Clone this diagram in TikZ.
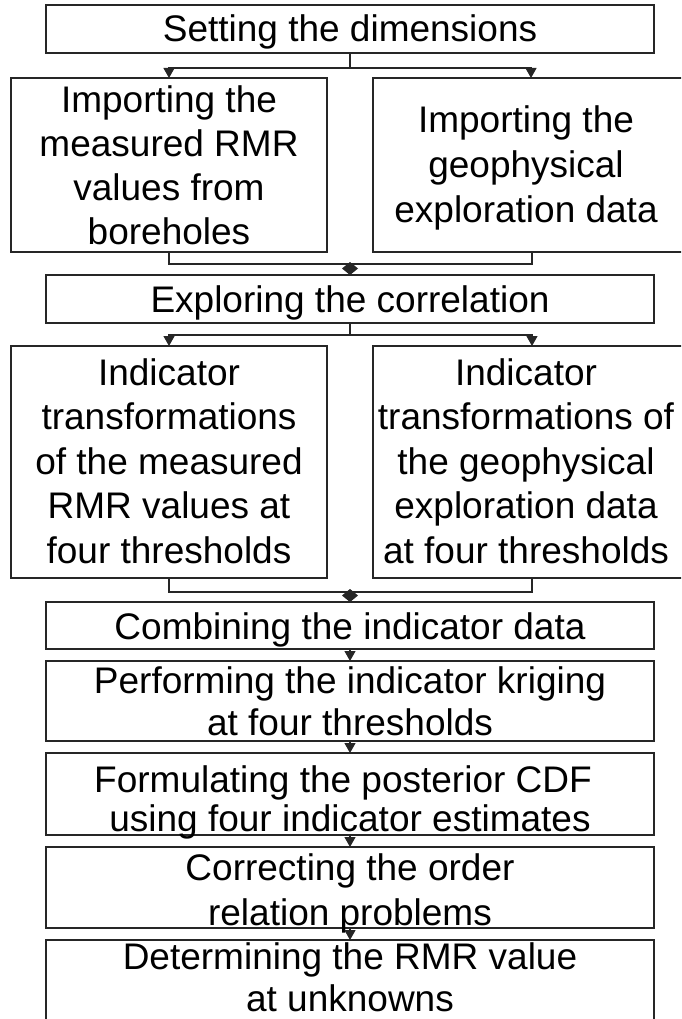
\documentclass[tikz,border=0pt]{standalone}
\usepackage{fontspec}
\setmainfont{Liberation Sans}
\usetikzlibrary{arrows.meta,calc}
\tikzset{
  txt/.style={inner sep=0pt, outer sep=0pt, align=center, text=black, text depth=0pt},
  box/.style={txt, draw=black!85, line width=1.2pt},
  openbox/.style={txt, draw=none},
  fs/.style={font=\fontsize{37}{#1}\selectfont},
  edge/.style={draw=black!85, line width=1.2pt},
  arr/.style={edge, -{Triangle[length=10pt,width=11pt]}},
  merge/.style={edge, -{Kite[length=13pt,width=16pt,inset=6.5pt]}, shorten <=-2pt},
}
\begin{document}
\begin{tikzpicture}[x=1pt,y=-1pt]
\clip (0,0) rectangle (681,1019);
\fill[white] (0,0) rectangle (681,1019);
% boxes
\node[box, fs=44, text height=26pt, minimum width=608pt, minimum height=48pt] (dim) at (350,29)
  {Setting the dimensions};
\node[box, fs=43.7, text height=158pt, minimum width=316pt, minimum height=174pt] (impL) at (169,165)
  {Importing the\\measured RMR\\values from\\boreholes};
\node[openbox, fs=45, text height=115pt, minimum width=306pt, minimum height=174pt] (impR) at (526,165)
  {Importing the\\geophysical\\exploration data};
\node[box, fs=44, text height=26pt, minimum width=608pt, minimum height=48pt] (exp) at (350,299)
  {Exploring the correlation};
\node[box, fs=44.5, text height=202pt, minimum width=316pt, minimum height=232pt] (indL) at (169,462)
  {Indicator\\transformations\\of the measured\\RMR values at\\four thresholds};
\node[openbox, fs=44.5, text height=202pt, minimum width=306pt, minimum height=232pt] (indR) at (526,462)
  {Indicator\\transformations of\\the geophysical\\exploration data\\at four thresholds};
\node[box, fs=44, text height=27pt, minimum width=608pt, minimum height=47pt] (comb) at (350,625.5)
  {Combining the indicator data};
\node[box, fs=42, text height=68pt, minimum width=608pt, minimum height=80pt] (krig) at (350,701)
  {Performing the indicator kriging\\at four thresholds};
\node[box, fs=38.5, text height=74pt, minimum width=608pt, minimum height=82pt] (post) at (350,794)
  {Formulating the posterior CDF\kern14pt\\using four indicator estimates};
\node[box, fs=45, text height=75pt, minimum width=608pt, minimum height=81pt] (corr) at (350,887.5)
  {Correcting the order\\relation problems};
\node[box, fs=42, text height=55pt, minimum width=608pt, minimum height=88pt] (det) at (350,984)
  {Determining the RMR value\\at unknowns};
% open borders of the right boxes (right side runs off the page)
\draw[edge] ([xshift=40pt]impR.north east) -- (impR.north west) -- (impR.south west) -- ([xshift=40pt]impR.south east);
\draw[edge] ([xshift=40pt]indR.north east) -- (indR.north west) -- (indR.south west) -- ([xshift=40pt]indR.south east);
% attachment points on the right boxes
\coordinate (impRn) at ([xshift=5pt]impR.north);
\coordinate (impRs) at ([xshift=6pt]impR.south);
\coordinate (indRn) at ([xshift=6pt]indR.north);
\coordinate (indRs) at ([xshift=6pt]indR.south);
% split after dimensions
\coordinate (s1) at ([yshift=-15pt]dim.south);
\draw[edge] (dim.south) -- (s1);
\draw[arr] (s1) -| (impL.north);
\draw[arr] (s1) -| (impRn);
% merge into exploring
\coordinate (m1) at ([yshift=-12pt]impL.south);
\draw[edge] (impL.south) -- (m1) -| (impRs);
\draw[merge] (m1 -| exp.north) -- (exp.north);
% split after exploring
\coordinate (s2) at ([yshift=-12pt]exp.south);
\draw[edge] (exp.south) -- (s2);
\draw[arr] (s2) -| (indL.north);
\draw[arr] (s2) -| (indRn);
% merge into combining
\coordinate (m2) at ([yshift=-14pt]indL.south);
\draw[edge] (indL.south) -- (m2) -| (indRs);
\draw[merge] (m2 -| comb.north) -- (comb.north);
% chain
\draw[arr] (comb.south) -- (krig.north);
\draw[arr] (krig.south) -- (post.north);
\draw[arr] (post.south) -- (corr.north);
\draw[arr] (corr.south) -- (det.north);
\end{tikzpicture}
\end{document}
